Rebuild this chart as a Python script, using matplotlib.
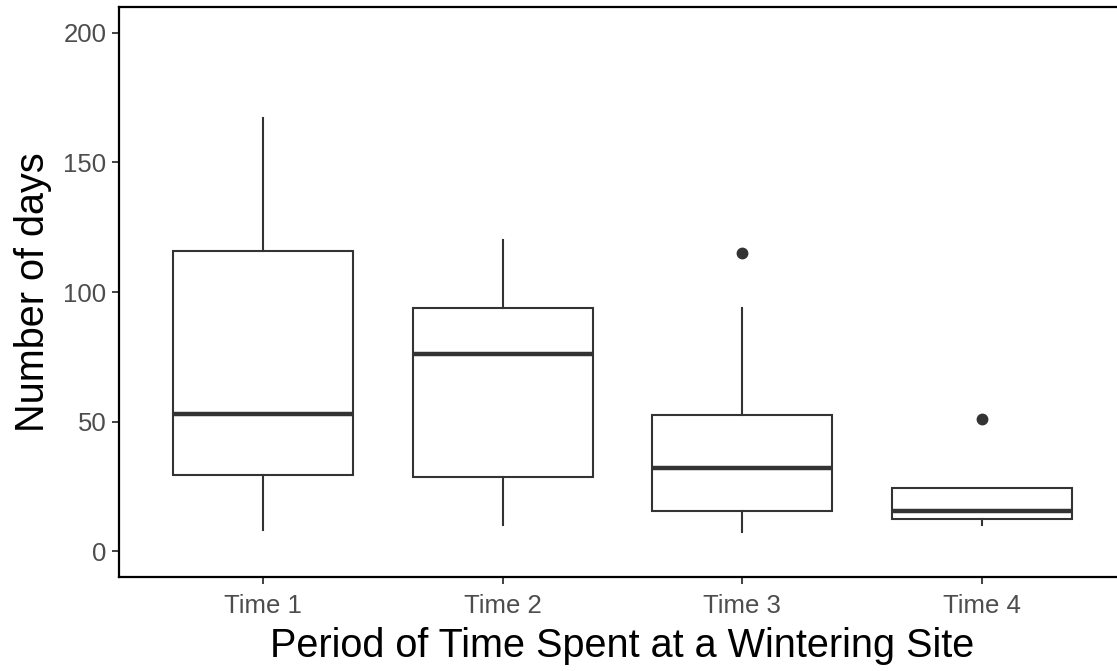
import matplotlib
matplotlib.use('Agg')
import matplotlib.pyplot as plt

# boxplot summaries per period (days)
periods = ['Time 1', 'Time 2', 'Time 3', 'Time 4']
whisker_low = [8, 10, 7.5, 10]
q1 = [29.5, 28.5, 15.5, 12.5]
medians = [53, 76, 32, 15.5]
q3 = [116, 94, 52.5, 24.5]
whisker_high = [167, 120, 94, 24.5]
outliers = [[], [], [115], [51]]

plt.rcParams['font.family'] = ['Liberation Sans', 'DejaVu Sans']

fig = plt.figure(figsize=(11.17, 6.71), dpi=100)
ax = fig.add_axes([119 / 1117, 94 / 671, 1007 / 1117, 570 / 671])

stats = []
for i in range(len(periods)):
    stats.append({'whislo': whisker_low[i], 'q1': q1[i], 'med': medians[i],
                  'q3': q3[i], 'whishi': whisker_high[i], 'fliers': outliers[i],
                  'label': periods[i]})

line_col = '#333333'
ax.bxp(stats, positions=range(1, 5), widths=0.75, showcaps=False, patch_artist=True,
       boxprops=dict(facecolor='white', edgecolor=line_col, linewidth=1.5),
       whiskerprops=dict(color=line_col, linewidth=1.5),
       medianprops=dict(color=line_col, linewidth=3.2, solid_capstyle='butt'),
       flierprops=dict(marker='o', markersize=7.5, markerfacecolor=line_col,
                       markeredgecolor=line_col))

ax.set_xlim(0.4, 4.6)
ax.set_ylim(-10, 210)
ax.set_yticks([0, 50, 100, 150, 200])

for side in ['left', 'bottom', 'top']:
    ax.spines[side].set_linewidth(1.6)
    ax.spines[side].set_color('black')
ax.spines['right'].set_visible(False)

ax.tick_params(axis='both', length=5, width=1.3, color=line_col,
               labelsize=18.5, labelcolor='#4D4D4D', pad=4)
ax.tick_params(axis='x', pad=7)
ax.set_ylabel('Number of days', fontsize=28.5, color='black', labelpad=8)
ax.set_xlabel('Period of Time Spent at a Wintering Site', fontsize=28.5,
              color='black', labelpad=7)

fig.savefig('out.png', dpi=100)
